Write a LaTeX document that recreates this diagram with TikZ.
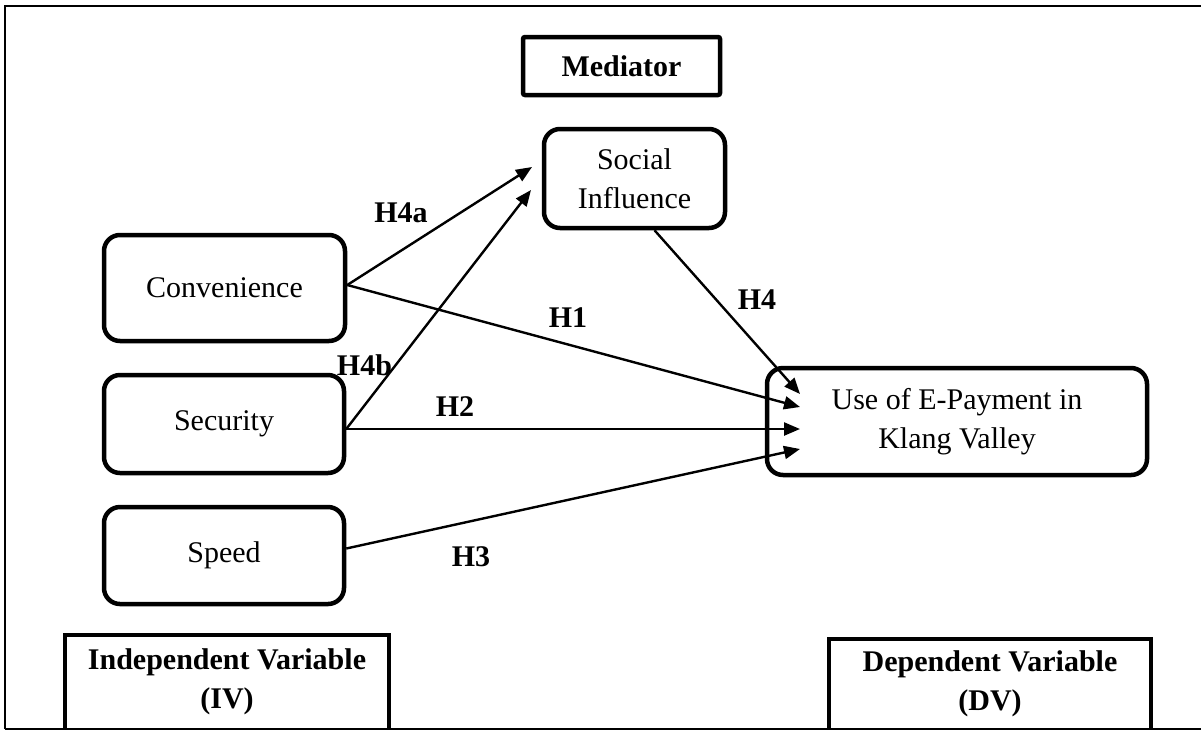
\documentclass[tikz,border=0pt]{standalone}
\usepackage{fontspec}
\setmainfont{Liberation Serif}
\usetikzlibrary{calc,positioning,arrows.meta}

\begin{document}
\begin{tikzpicture}[x=1pt, y=-1pt,
		font=\fontsize{30}{38.5}\selectfont,
		var/.style = {draw, line width=4.5pt, rounded corners=16pt, align=center},
		head/.style = {align=center, font=\fontsize{30}{38.5}\selectfont\bfseries},
		hyp/.style = {font=\fontsize{30}{36}\selectfont\bfseries, inner sep=0pt},
		arr/.style = {-{Triangle[length=16pt,width=13pt]}, line width=2.4pt}]
		\useasboundingbox (0,0) rectangle (1201,732);
		% frame
		\draw[line width=2.5pt] (5,729) -- (5,6) -- (1201,6);
		\draw[line width=2.5pt] (5,729) -- (1201,729);
		% variables
		\node[var, minimum width=241pt, minimum height=106pt] (conv) at (224.5,288) {Convenience};
		\node[var, minimum width=240pt, minimum height=98pt] (sec) at (224,424) {Security};
		\node[var, minimum width=240pt, minimum height=97pt] (spd) at (224,555.5) {Speed};
		\node[var, minimum width=181pt, minimum height=99pt] (soc) at (634.5,178.5) {Social\\Influence};
		\node[var, minimum width=380pt, minimum height=107pt] (pay) at (957,421.5) {Use of E-Payment in\\Klang Valley};
		% headings
		\node[head, draw, line width=4.5pt, rounded corners=2pt, minimum width=197pt, minimum height=58pt] (med) at (621.5,66) {Mediator};
		\node[head, minimum width=324pt, minimum height=94pt] (iv) at (227,682) {Independent Variable\\(IV)};
		\node[head, minimum width=322pt, minimum height=90pt] (dv) at (990,684) {Dependent Variable\\(DV)};
		\draw[line width=4.5pt] (iv.south west) -- (iv.north west) -- (iv.north east) -- (iv.south east);
		\draw[line width=4.5pt] (dv.south west) -- (dv.north west) -- (dv.north east) -- (dv.south east);
		% arrow tips
		\coordinate (t4a) at (532,167);
		\coordinate (t4b) at (531,190);
		\coordinate (t4) at (800,394);
		\coordinate (t1) at (800,407);
		\coordinate (t2) at (800,429);
		\coordinate (t3) at (800,449);
		\draw[arr] ([yshift=3pt]conv.east) -- (t4a);
		\draw[arr] ([yshift=3pt]conv.east) -- (t1);
		\draw[arr] (sec.east |- t2) -- (t4b);
		\draw[arr] (sec.east |- t2) -- (t2);
		\draw[arr] ([yshift=7pt]spd.east) -- (t3);
		\draw[arr] ([xshift=20pt]soc.south) -- (t4);
		% labels
		\node[hyp] (l4a) at (401,213) {H4a};
		\node[hyp] (l4b) at (364.5,365) {H4b};
		\node[hyp] (l1) at (568,318) {H1};
		\node[hyp] (l4) at (757,300) {H4};
		\node[hyp] (l2) at (455,407) {H2};
		\node[hyp] (l3) at (471,557) {H3};
	\end{tikzpicture}
\end{document}
